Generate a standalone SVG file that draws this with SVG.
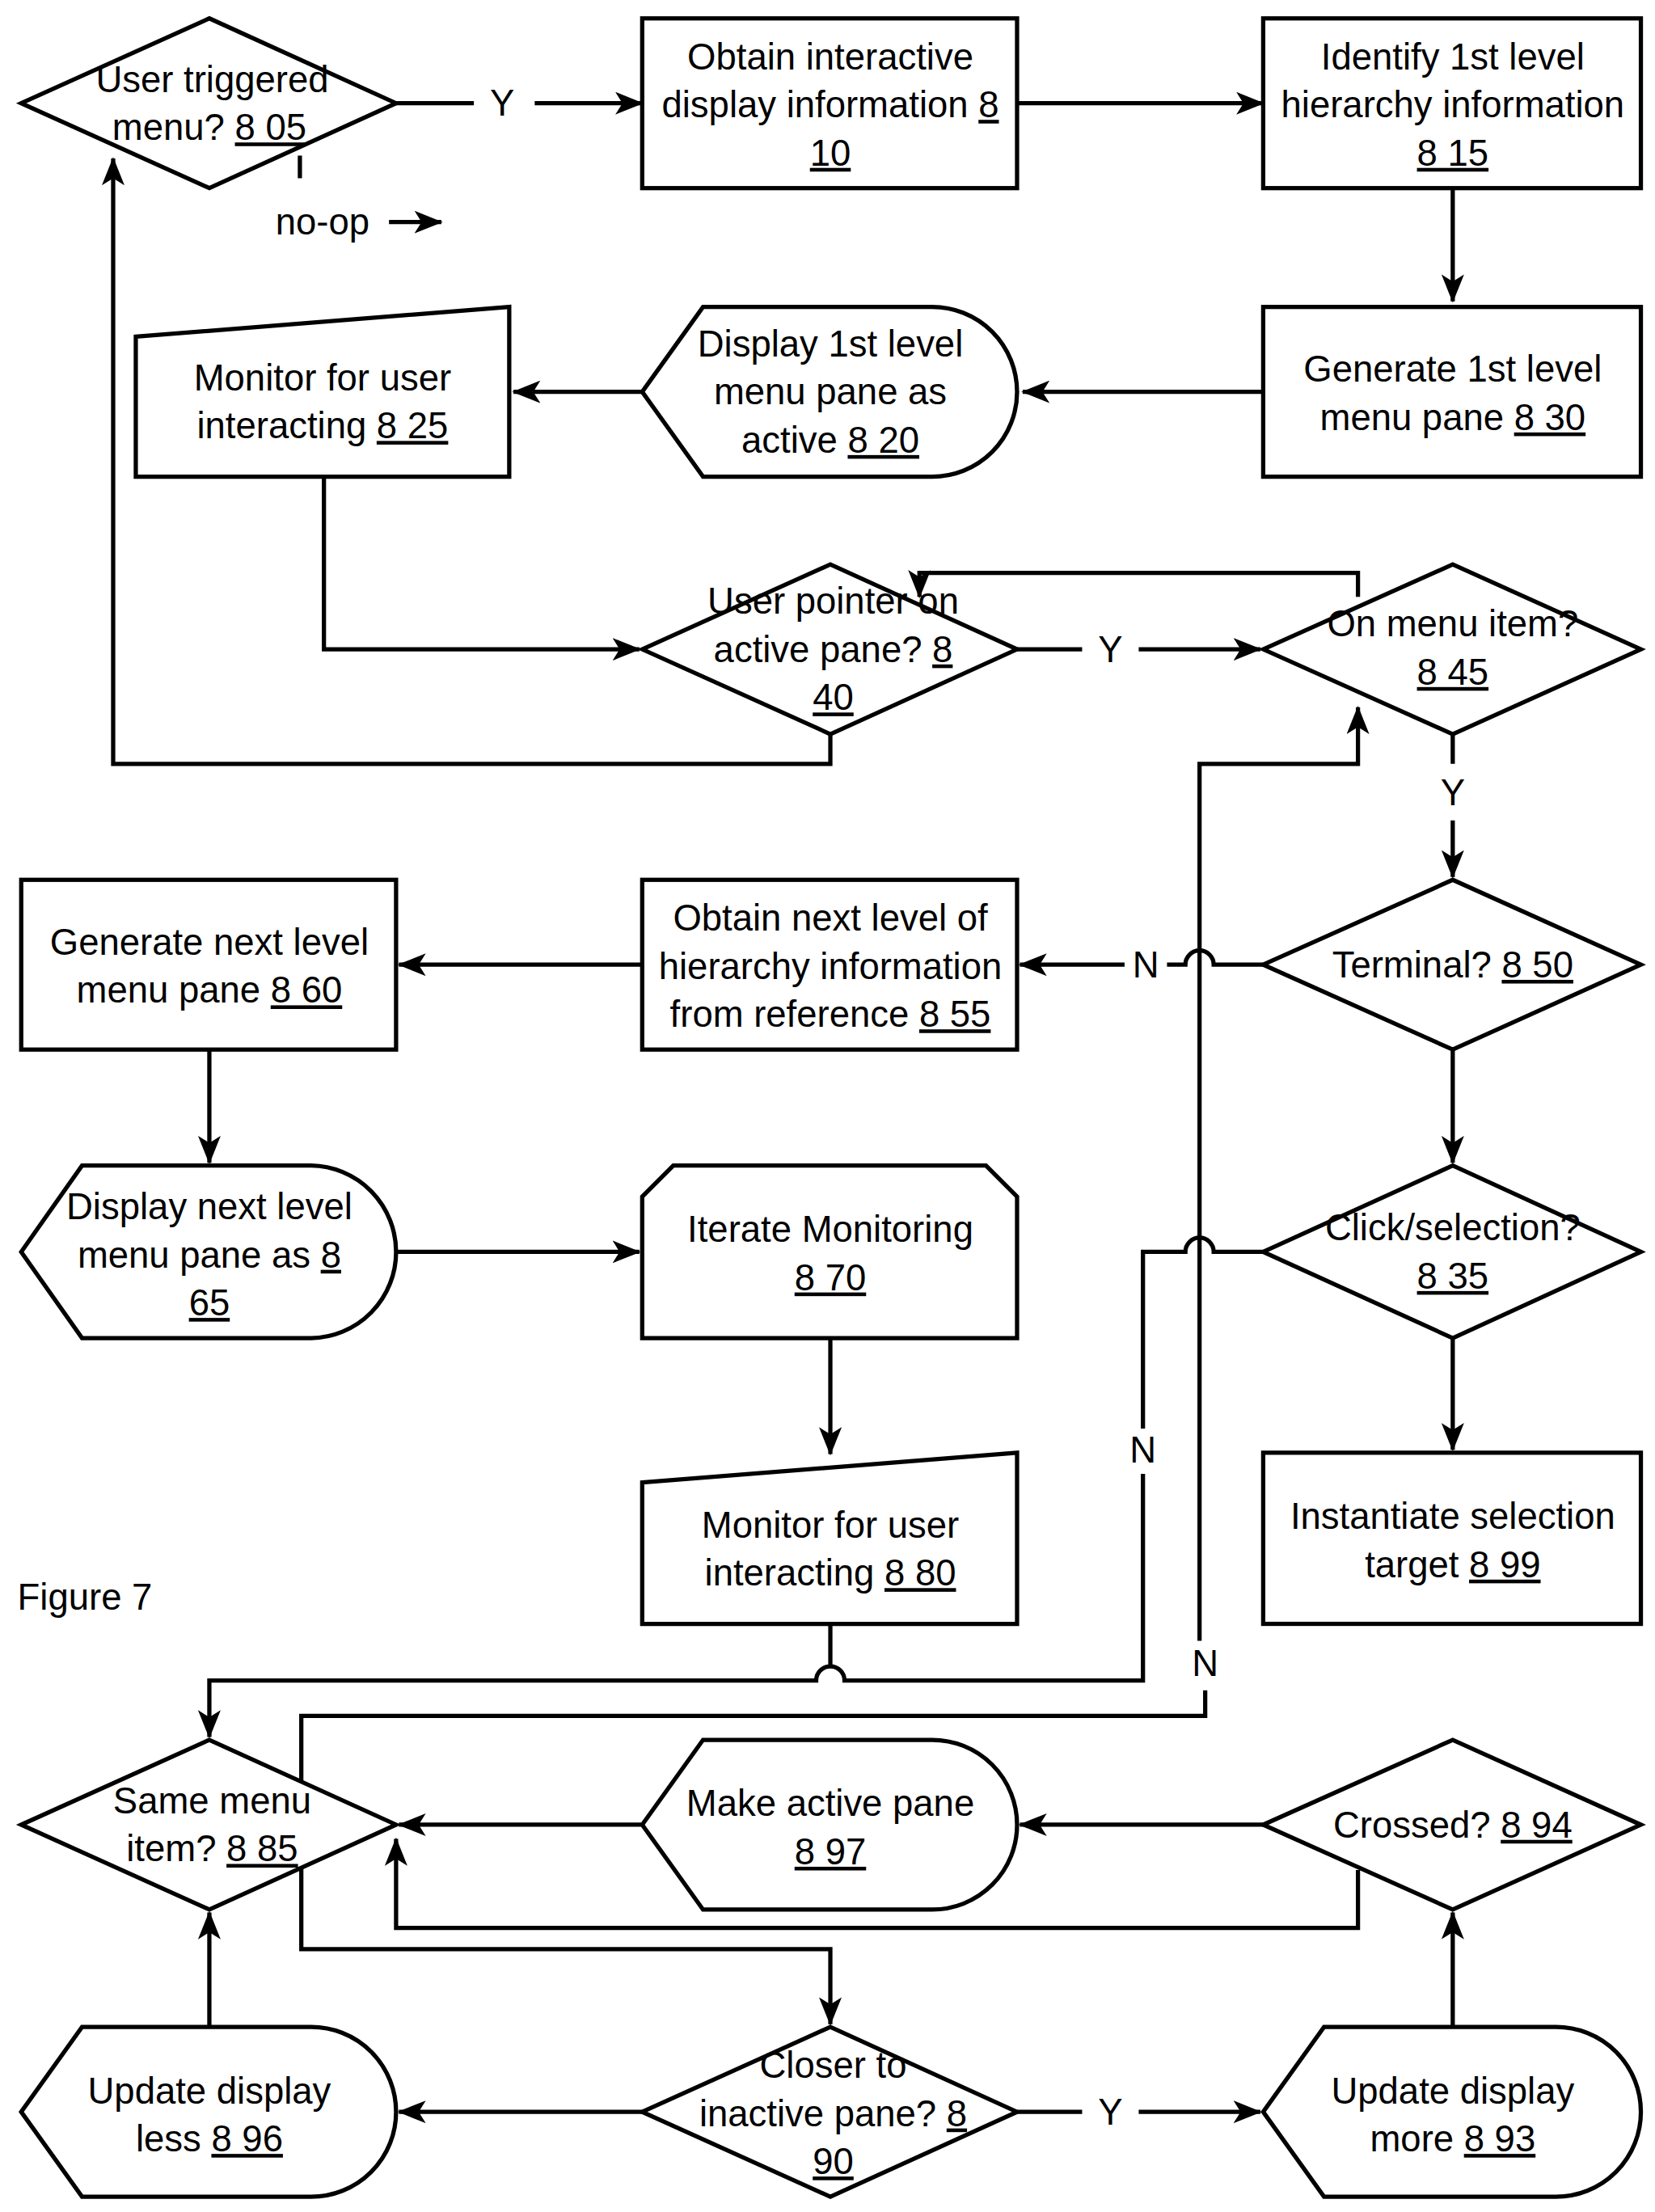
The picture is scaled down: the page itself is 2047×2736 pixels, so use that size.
<svg xmlns="http://www.w3.org/2000/svg" width="2047" height="2736" viewBox="0 0 2047 2736">
<style>
.s{fill:#fff;stroke:#000;stroke-width:3}
.c{fill:none;stroke:#000;stroke-width:3}
text{font-family:"Liberation Sans",Arial,sans-serif;font-size:26px;text-anchor:middle;fill:#000}
.u{text-decoration:underline}
</style>
<defs><marker id="a" markerWidth="10" markerHeight="10" refX="9" refY="5" orient="auto" markerUnits="userSpaceOnUse" viewBox="0 0 10 10"><path d="M0,0 L10,5 L0,10 L3,5z" fill="#000"/></marker>
<marker id="A" viewBox="0 0 20 16" refX="19" refY="8" markerWidth="20" markerHeight="16" orient="auto" markerUnits="userSpaceOnUse"><path d="M0,0 L20,8 L0,16 L5,8z" fill="#000"/></marker></defs>
<rect width="2047" height="2736" fill="#fff"/>
<g transform="scale(1.7496)">
<g id="connectors" class="c">
<path d="M280,73H335M378,73H454" marker-end="url(#A)"/>
<path d="M719,73H893" marker-end="url(#A)"/>
<path d="M1027,133V213" marker-end="url(#A)"/>
<path d="M893,277H723" marker-end="url(#A)"/>
<path d="M454,277H363" marker-end="url(#A)"/>
<path d="M229,337V459H452" marker-end="url(#A)"/>
<path d="M719,459H765M805,459H891" marker-end="url(#A)"/>
<path d="M587,519V540H80V112" marker-end="url(#A)"/>
<path d="M212,110V126"/>
<path d="M275,157H312" marker-end="url(#A)"/>
<path d="M960,422V405H650V422" marker-end="url(#A)"/>
<path d="M1027,519V540M1027,580V620" marker-end="url(#A)"/>
<path d="M893,682H858A10,10 0 0 0 838,682H825M795,682H721" marker-end="url(#A)"/>
<path d="M454,682H282" marker-end="url(#A)"/>
<path d="M148,742V822" marker-end="url(#A)"/>
<path d="M280,885H452" marker-end="url(#A)"/>
<path d="M587,946V1028" marker-end="url(#A)"/>
<path d="M1027,742V822" marker-end="url(#A)"/>
<path d="M1027,946V1025" marker-end="url(#A)"/>
<path d="M893,885H858A10,10 0 0 0 838,885H808V1010M808,1042V1188H597A10,10 0 0 0 577,1188H148V1228" marker-end="url(#A)"/>
<path d="M587,1148V1178"/>
<path d="M848,1160V540H960V500" marker-end="url(#A)"/>
<path d="M852,1195V1213H213V1378H587V1431" marker-end="url(#A)"/>
<path d="M454,1290H282" marker-end="url(#A)"/>
<path d="M893,1290H721" marker-end="url(#A)"/>
<path d="M960,1322V1363H280V1300" marker-end="url(#A)"/>
<path d="M1027,1433V1352" marker-end="url(#A)"/>
<path d="M719,1493H765M805,1493H891" marker-end="url(#A)"/>
<path d="M454,1493H282" marker-end="url(#A)"/>
<path d="M148,1433V1352" marker-end="url(#A)"/>
</g>
<g id="labels">
<text x="355" y="82">Y</text><text x="785" y="468">Y</text><text x="785" y="1502">Y</text>
<text x="1027" y="569">Y</text><text x="810" y="691">N</text><text x="808" y="1034">N</text><text x="852" y="1185">N</text>
<text x="228" y="166">no-op</text>
<text x="60" y="1138">Figure 7</text>
</g>
<g id="n805"><path class="s" d="M15,73L148,13L280,73L148,133Z"/><text x="150" y="65">User triggered</text><text x="148" y="99">menu? <tspan class="u">8 05</tspan></text></g>
<g id="n810"><rect class="s" x="454" y="13" width="265" height="120"/><text x="587" y="49">Obtain interactive</text><text x="587" y="83">display information <tspan class="u">8</tspan></text><text x="587" y="117" class="u">10</text></g>
<g id="n815"><rect class="s" x="893" y="13" width="267" height="120"/><text x="1027" y="49">Identify 1st level</text><text x="1027" y="83">hierarchy information</text><text x="1027" y="117" class="u">8 15</text></g>
<g id="n830"><rect class="s" x="893" y="217" width="267" height="120"/><text x="1027" y="270">Generate 1st level</text><text x="1027" y="304">menu pane <tspan class="u">8 30</tspan></text></g>
<g id="n820"><path class="s" d="M454,277L497,217H659A60,60 0 0 1 719,277A60,60 0 0 1 659,337H497Z"/><text x="587" y="252">Display 1st level</text><text x="587" y="286">menu pane as</text><text x="587" y="320">active <tspan class="u">8 20</tspan></text></g>
<g id="n825"><path class="s" d="M96,238L360,217V337H96Z"/><text x="228" y="276">Monitor for user</text><text x="228" y="310">interacting <tspan class="u">8 25</tspan></text></g>
<g id="n840"><path class="s" d="M454,459L587,399L719,459L587,519Z"/><text x="589" y="434">User pointer on</text><text x="589" y="468">active pane? <tspan class="u">8</tspan></text><text x="589" y="502" class="u">40</text></g>
<g id="n845"><path class="s" d="M893,459L1027,399L1160,459L1027,519Z"/><text x="1027" y="450">On menu item?</text><text x="1027" y="484" class="u">8 45</text></g>
<g id="n850"><path class="s" d="M893,682L1027,622L1160,682L1027,742Z"/><text x="1027" y="691">Terminal? <tspan class="u">8 50</tspan></text></g>
<g id="n855"><rect class="s" x="454" y="622" width="265" height="120"/><text x="587" y="658">Obtain next level of</text><text x="587" y="692">hierarchy information</text><text x="587" y="726">from reference <tspan class="u">8 55</tspan></text></g>
<g id="n860"><rect class="s" x="15" y="622" width="265" height="120"/><text x="148" y="675">Generate next level</text><text x="148" y="709">menu pane <tspan class="u">8 60</tspan></text></g>
<g id="n865"><path class="s" d="M15,885L58,824H220A61,61 0 0 1 280,885A61,61 0 0 1 220,946H58Z"/><text x="148" y="862">Display next level</text><text x="148" y="896">menu pane as <tspan class="u">8</tspan></text><text x="148" y="930" class="u">65</text></g>
<g id="n870"><path class="s" d="M454,946V846L476,824H697L719,846V946Z"/><text x="587" y="878">Iterate Monitoring</text><text x="587" y="912" class="u">8 70</text></g>
<g id="n835"><path class="s" d="M893,885L1027,824L1160,885L1027,946Z"/><text x="1027" y="877">Click/selection?</text><text x="1027" y="911" class="u">8 35</text></g>
<g id="n899"><rect class="s" x="893" y="1027" width="267" height="121"/><text x="1027" y="1081">Instantiate selection</text><text x="1027" y="1115">target <tspan class="u">8 99</tspan></text></g>
<g id="n880"><path class="s" d="M454,1048L719,1027V1148H454Z"/><text x="587" y="1087">Monitor for user</text><text x="587" y="1121">interacting <tspan class="u">8 80</tspan></text></g>
<g id="n885"><path class="s" d="M15,1290L148,1230L280,1290L148,1350Z"/><text x="150" y="1282">Same menu</text><text x="150" y="1316">item? <tspan class="u">8 85</tspan></text></g>
<g id="n897"><path class="s" d="M454,1290L497,1230H659A60,60 0 0 1 719,1290A60,60 0 0 1 659,1350H497Z"/><text x="587" y="1284">Make active pane</text><text x="587" y="1318" class="u">8 97</text></g>
<g id="n894"><path class="s" d="M893,1290L1027,1230L1160,1290L1027,1350Z"/><text x="1027" y="1299">Crossed? <tspan class="u">8 94</tspan></text></g>
<g id="n896"><path class="s" d="M15,1493L58,1433H220A60,60 0 0 1 280,1493A60,60 0 0 1 220,1553H58Z"/><text x="148" y="1487">Update display</text><text x="148" y="1521">less <tspan class="u">8 96</tspan></text></g>
<g id="n890"><path class="s" d="M454,1493L587,1433L719,1493L587,1553Z"/><text x="589" y="1469">Closer to</text><text x="589" y="1503">inactive pane? <tspan class="u">8</tspan></text><text x="589" y="1537" class="u">90</text></g>
<g id="n893"><path class="s" d="M893,1493L936,1433H1100A60,60 0 0 1 1160,1493A60,60 0 0 1 1100,1553H936Z"/><text x="1027" y="1487">Update display</text><text x="1027" y="1521">more <tspan class="u">8 93</tspan></text></g>
</g>
</svg>
